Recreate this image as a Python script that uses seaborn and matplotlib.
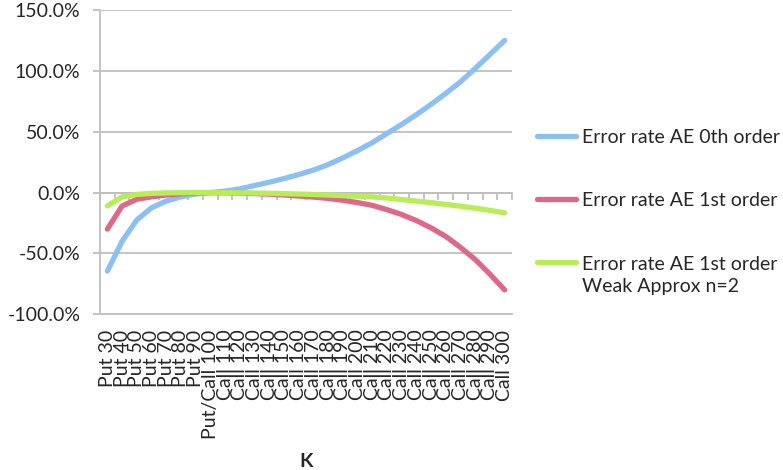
import numpy as np
import pandas as pd
import matplotlib
matplotlib.use("Agg")
import matplotlib.pyplot as plt
import seaborn as sns
from matplotlib.ticker import PercentFormatter

# strikes (x categories)
strikes = ["Put 30", "Put 40", "Put 50", "Put 60", "Put 70", "Put 80", "Put 90",
           "Put/Call 100",
           "Call 110", "Call 120", "Call 130", "Call 140", "Call 150",
           "Call 160", "Call 170", "Call 180", "Call 190", "Call 200",
           "Call 210", "Call 220", "Call 230", "Call 240", "Call 250",
           "Call 260", "Call 270", "Call 280", "Call 290", "Call 300"]

# error rates in percent
err_0th = [-64.5, -40, -22.5, -12.5, -7, -3.5, -1.2, 0,
           1.2, 3, 5.8, 8.5, 11.5, 14.8, 18.5, 23, 28.5, 34.5, 41, 48.5,
           56, 64, 72.5, 81.5, 91, 102, 113.5, 125]
err_1st = [-30, -11, -5.5, -3.5, -2, -1, -0.3, 0,
           -0.2, -0.4, -0.8, -1.3, -2, -2.8, -3.7, -4.8, -6.3, -8.2, -10.5, -14,
           -18, -23, -29, -36, -45, -55, -67, -80]
err_weak = [-11, -3.5, -1.5, -0.7, -0.3, -0.1, 0, 0,
            -0.1, -0.2, -0.4, -0.6, -0.9, -1.2, -1.6, -2, -2.5, -3, -3.5, -4.5,
            -5.7, -7, -8.3, -9.7, -11.2, -12.8, -14.6, -16.6]

series_names = ["Error rate AE 0th order", "Error rate AE 1st order",
                "Error rate AE 1st order\nWeak Approx n=2"]
colors = ["#8cc0f5", "#e0668a", "#b8ec58"]

df = pd.concat([
    pd.DataFrame({"K": strikes, "err": vals, "series": name})
    for name, vals in zip(series_names, [err_0th, err_1st, err_weak])
])

sns.set_style("white")
plt.rcParams["font.family"] = ["Lato", "DejaVu Sans"]
plt.rcParams["axes.unicode_minus"] = False

fs = 14
grey = "#bfbfbf"
fig = plt.figure(figsize=(7.83, 4.70), dpi=100)
ax = fig.add_axes([100 / 783, 1 - 314.3 / 470, 412 / 783, 304.3 / 470])

sns.lineplot(data=df, x="K", y="err", hue="series", hue_order=series_names,
             palette=colors, sort=False, linewidth=3.8, ax=ax,
             solid_capstyle="round")

ax.set_xlim(-0.5, len(strikes) - 0.5)
ax.set_ylim(-100, 150)
ax.set_yticks(np.arange(-100, 151, 50))
ax.yaxis.set_major_formatter(PercentFormatter(xmax=100, decimals=1))
ax.yaxis.grid(True, color=grey, linewidth=1.3)
ax.tick_params(axis="y", length=5, width=1.3, color=grey, pad=9,
               labelsize=fs, left=True)
ax.tick_params(axis="x", length=0, pad=11, labelsize=fs, labelrotation=90)

for s in ["top", "right"]:
    ax.spines[s].set_visible(False)
ax.spines["left"].set_color(grey)
ax.spines["left"].set_linewidth(1.3)
ax.spines["bottom"].set_color(grey)
ax.spines["bottom"].set_linewidth(1.3)

# horizontal axis line crossing at 0 with category tick marks
zero_axis = ax.secondary_xaxis(0.4)
zero_axis.set_xticks(np.arange(-0.5, len(strikes), 1))
zero_axis.tick_params(length=5, width=1.3, color=grey, labelbottom=False,
                      labeltop=False)
zero_axis.spines["bottom"].set_color(grey)
zero_axis.spines["bottom"].set_linewidth(1.3)

ax.set_xlabel("K", fontweight="bold", fontsize=fs, labelpad=10)
ax.set_ylabel("")

handles, labels = ax.get_legend_handles_labels()
leg = ax.legend(handles, labels, loc="center left", frameon=False,
                bbox_to_anchor=(537 / 783, 1 - 212 / 470),
                bbox_transform=fig.transFigure, fontsize=fs, handlelength=2.0,
                handletextpad=0.32, labelspacing=2.4, borderpad=0,
                borderaxespad=0)
for t in leg.get_texts():
    t.set_linespacing(1.4)
for line in leg.get_lines():
    line.set_linewidth(3.8)
# Excel puts the marker of a two-line entry next to its first line
weak_line = leg.get_lines()[2]
weak_line.set_ydata(np.asarray(weak_line.get_ydata()) + 10)

fig.savefig("out.png", dpi=100)
